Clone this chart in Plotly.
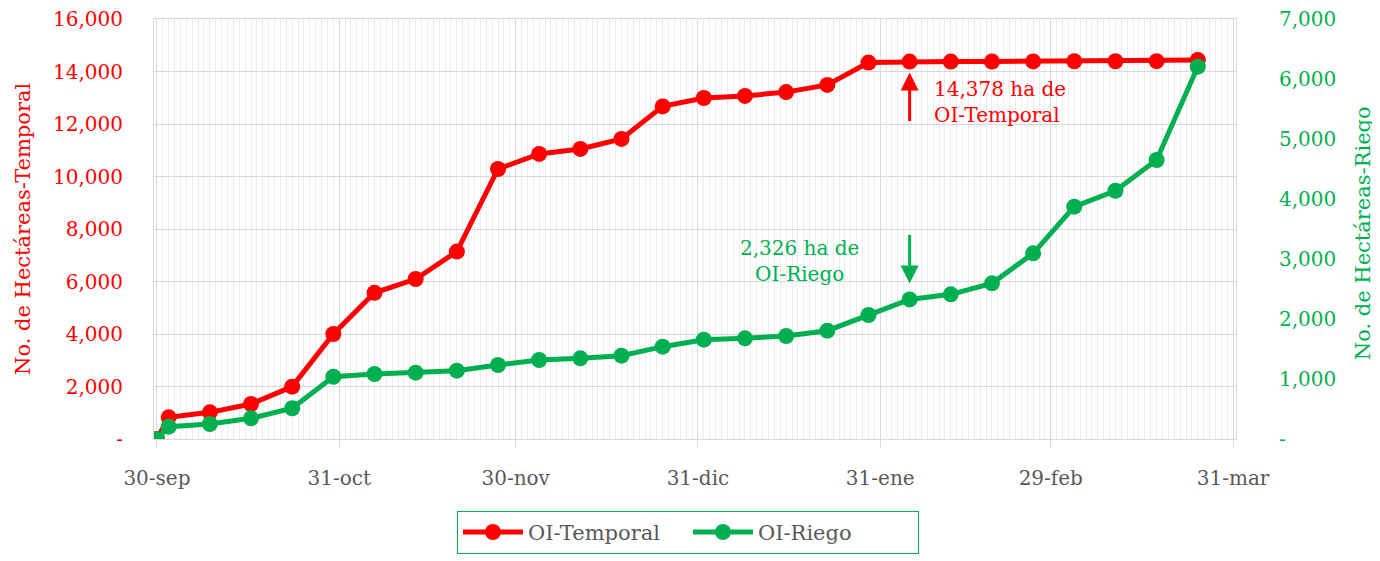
import plotly.graph_objects as go

# ---- data ----
dates = ["2023-09-30", "2023-10-02", "2023-10-09", "2023-10-16", "2023-10-23", "2023-10-30",
         "2023-11-06", "2023-11-13", "2023-11-20", "2023-11-27", "2023-12-04", "2023-12-11",
         "2023-12-18", "2023-12-25", "2024-01-01", "2024-01-08", "2024-01-15", "2024-01-22",
         "2024-01-29", "2024-02-05", "2024-02-12", "2024-02-19", "2024-02-26", "2024-03-04",
         "2024-03-11", "2024-03-18", "2024-03-25"]
temporal = [0, 826, 1016, 1333, 1994, 4000, 5570, 6095, 7140, 10286, 10860, 11050, 11430, 12670,
            12990, 13070, 13215, 13490, 14340, 14378, 14378, 14380, 14385, 14390, 14390, 14395, 14440]
riego = [0, 205, 250, 345, 512, 1038, 1083, 1106, 1139, 1233, 1317, 1344, 1389, 1539,
         1655, 1678, 1717, 1805, 2067, 2326, 2411, 2594, 3094, 3872, 4138, 4650, 6205]

x_tick_dates = ["2023-09-30", "2023-10-31", "2023-11-30", "2023-12-31", "2024-01-31", "2024-02-29", "2024-03-31"]
x_tick_labels = ["30-sep", "31-oct", "30-nov", "31-dic", "31-ene", "29-feb", "31-mar"]
y1_ticks = [0, 2000, 4000, 6000, 8000, 10000, 12000, 14000, 16000]
y2_ticks = [0, 1000, 2000, 3000, 4000, 5000, 6000, 7000]
annot_date = "2024-02-05"
y1_title = "No. de Hectáreas-Temporal"
y2_title = "No. de Hectáreas-Riego"

RED = "#ff0000"
GREEN = "#00b050"
GRAY = "#595959"
FONT = "DejaVu Serif"


def fmt(v):
    return "-" if v == 0 else f"{v:,}"


fig = go.Figure()
fig.add_trace(go.Scatter(x=dates, y=temporal, name="OI-Temporal", mode="lines+markers",
                         line=dict(color=RED, width=5), marker=dict(color=RED, size=16),
                         yaxis="y"))
fig.add_trace(go.Scatter(x=dates, y=riego, name="OI-Riego", mode="lines+markers",
                         line=dict(color=GREEN, width=5), marker=dict(color=GREEN, size=16),
                         yaxis="y2"))

i = dates.index(annot_date)
annotations = [
    dict(x=dates[i], y=temporal[i], xref="x", yref="y", yshift=-11, ax=0, ay=50,
         text="", showarrow=True, arrowhead=2, arrowsize=1.2, arrowwidth=3, arrowcolor=RED),
    dict(x=dates[i], y=temporal[i], xref="x", yref="y", xshift=22, yshift=-40,
         xanchor="left", yanchor="middle", align="left", showarrow=False,
         text=f"{temporal[i]:,} ha de<br>OI-Temporal", font=dict(color=RED, size=20, family=FONT)),
    dict(x=dates[i], y=riego[i], xref="x", yref="y2", yshift=16, ax=0, ay=-50,
         text="", showarrow=True, arrowhead=2, arrowsize=1.2, arrowwidth=3, arrowcolor=GREEN),
    dict(x=dates[i], y=riego[i], xref="x", yref="y2", xshift=-110, yshift=38,
         xanchor="center", yanchor="middle", align="center", showarrow=False,
         text=f"{riego[i]:,} ha de<br>OI-Riego", font=dict(color=GREEN, size=20, family=FONT)),
    # axis titles
    dict(x=-0.1211, y=0.5, xref="paper", yref="paper", xanchor="center", yanchor="middle",
         textangle=-90, showarrow=False, text=y1_title, font=dict(color=RED, size=21, family=FONT)),
    dict(x=1.1174, y=0.49, xref="paper", yref="paper", xanchor="center", yanchor="middle",
         textangle=-90, showarrow=False, text=y2_title, font=dict(color=GREEN, size=21, family=FONT)),
]

# page body has an 8px margin, so the figure is drawn 8px smaller and offset
fig.update_layout(
    width=1372, height=553,
    margin=dict(l=146, r=144, t=11, b=122, autoexpand=False),
    plot_bgcolor="white", paper_bgcolor="white",
    font=dict(family=FONT, size=20, color=GRAY),
    annotations=annotations,
    legend=dict(orientation="h", x=0.4935, xanchor="center", y=-0.171, yanchor="top",
                bordercolor=GREEN, borderwidth=1, font=dict(size=21, color=GRAY, family=FONT),
                itemwidth=60, entrywidth=155),
    xaxis=dict(
        type="date", range=["2023-09-29 12:00", "2024-03-31 12:00"], automargin=False,
        tickmode="array", tickvals=x_tick_dates, ticktext=x_tick_labels,
        showgrid=True, gridcolor="#d9d9d9", gridwidth=1,
        ticks="outside", ticklen=8, tickcolor="#d9d9d9", ticklabelstandoff=13,
        tickfont=dict(size=20, color=GRAY), ticklabeloverflow="allow",
        minor=dict(dtick=86400000, tick0="2023-09-30", showgrid=True, gridcolor="#ececec", gridwidth=1),
        showline=True, linecolor="#d9d9d9", mirror=True, zeroline=False,
    ),
    yaxis=dict(
        range=[0, 16000], tickmode="array", tickvals=y1_ticks, ticktext=[fmt(v) for v in y1_ticks],
        showgrid=True, gridcolor="#d9d9d9", gridwidth=1, zeroline=False, automargin=False,
        tickfont=dict(size=20, color=RED), ticklabelstandoff=26, ticklabeloverflow="allow",
        showline=True, linecolor="#d9d9d9", mirror=True,
    ),
    yaxis2=dict(
        range=[0, 7000], overlaying="y", side="right", tickmode="array", tickvals=y2_ticks,
        ticktext=[fmt(v) for v in y2_ticks], showgrid=False, zeroline=False, automargin=False,
        tickfont=dict(size=20, color=GREEN), ticklabelstandoff=42, ticklabeloverflow="allow",
    ),
)

fig.write_html("out.html")
